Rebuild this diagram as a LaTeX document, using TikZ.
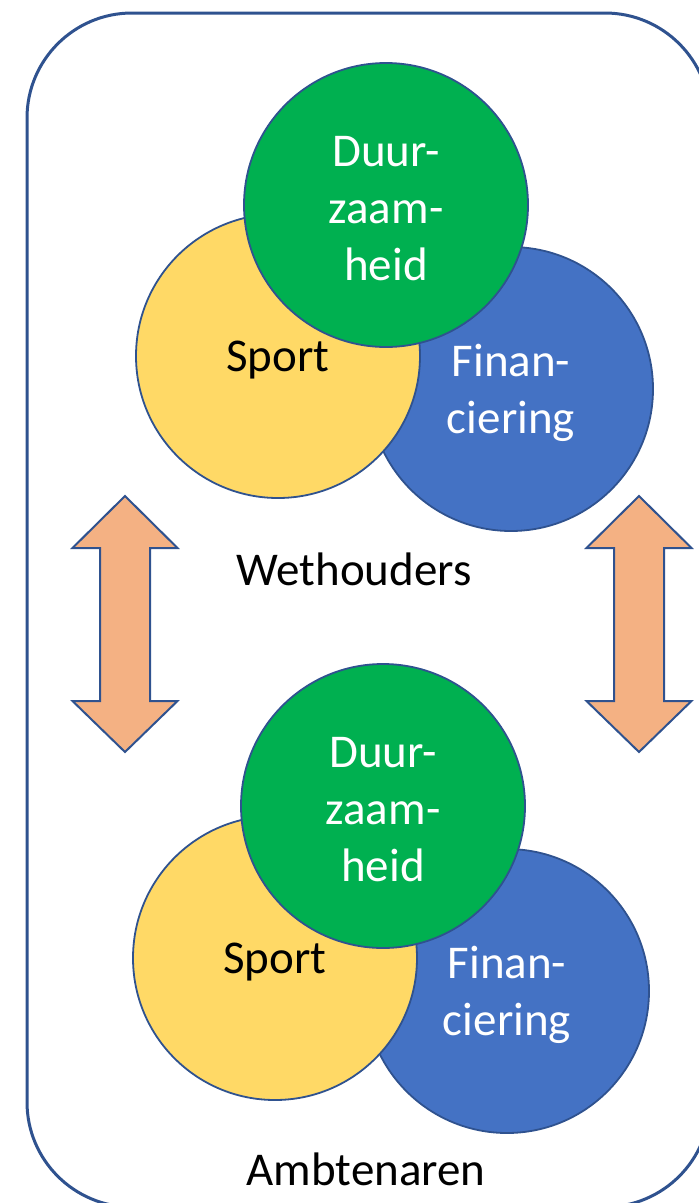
\documentclass[tikz,border=0pt]{standalone}
\usepackage{fontspec}
\setmainfont{Carlito}
\usepackage{tikz}

\definecolor{rim}{HTML}{2F528F}
\definecolor{groen}{HTML}{00B050}
\definecolor{geel}{HTML}{FFD966}
\definecolor{blauw}{HTML}{4472C4}
\definecolor{zalm}{HTML}{F4B183}

\tikzset{
  bol/.style={circle, draw=rim, line width=1.8pt, minimum size=284pt, inner sep=0pt},
  woord/.style={align=center, yshift=-4pt, font=\fontsize{47}{57}\selectfont},
  groep/.style={anchor=base, font=\fontsize{47}{57}\selectfont},
  pijl/.style={draw=rim, fill=zalm, line width=2pt, miter limit=10},
}

\begin{document}
\begin{tikzpicture}[x=1pt,y=-1pt]
   \useasboundingbox (0,0) rectangle (699,1203);
   % kader
   \draw[rim, line width=3pt, rounded corners=105pt] (27,13) rectangle (710,1207);
   % wethouders
   \node[bol, fill=blauw] (finW) at (511,389) {};
   \node[woord, text=white] (finWt) at (finW.center) {Finan-\\ciering};
   \node[bol, fill=geel] (sportW) at (278,356) {};
   \node[woord] (sportWt) at (sportW.center) {Sport};
   \node[bol, fill=groen] (duurW) at (386,205) {};
   \node[woord, text=white] (duurWt) at (duurW.center) {Duur-\\zaam-\\heid};
   \node[groep] (weth) at (354,585) {Wethouders};
   % ambtenaren
   \node[bol, fill=blauw] (finA) at (507,991) {};
   \node[woord, text=white] (finAt) at (finA.center) {Finan-\\ciering};
   \node[bol, fill=geel] (sportA) at (275,958) {};
   \node[woord] (sportAt) at (sportA.center) {Sport};
   \node[bol, fill=groen] (duurA) at (383,806) {};
   \node[woord, text=white] (duurAt) at (duurA.center) {Duur-\\zaam-\\heid};
   \node[groep] (ambt) at (366,1185) {Ambtenaren};
   % pijlen
   \foreach \ax in {125,639}
      \draw[pijl] (\ax,496) -- ({\ax+52.5},548) -- ({\ax+25},548)
         -- ({\ax+25},701) -- ({\ax+52.5},701) -- (\ax,752)
         -- ({\ax-52.5},701) -- ({\ax-25},701) -- ({\ax-25},548)
         -- ({\ax-52.5},548) -- cycle;
\end{tikzpicture}
\end{document}
